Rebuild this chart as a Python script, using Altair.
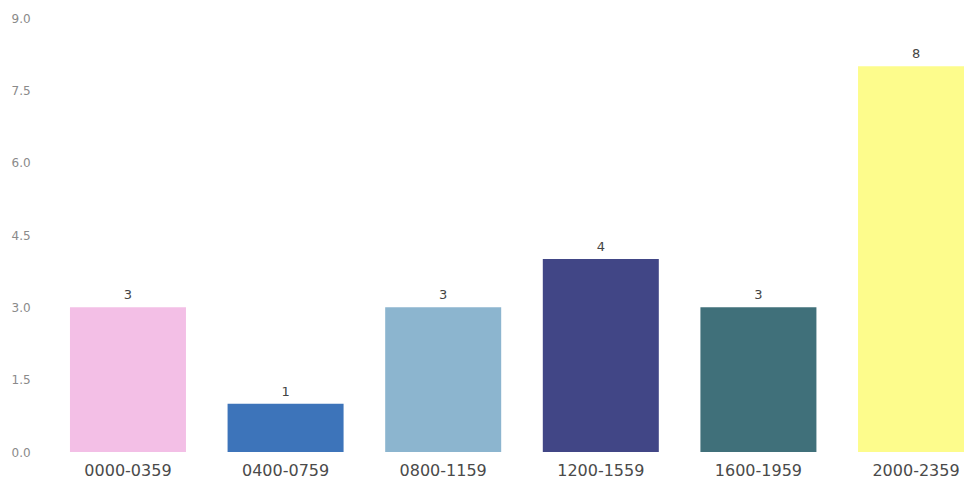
import altair as alt
import pandas as pd

# Counts per four-hour time window
windows = ["0000-0359", "0400-0759", "0800-1159", "1200-1559", "1600-1959", "2000-2359"]
counts = [3, 1, 3, 4, 3, 8]
bar_colors = ["#f3bfe6", "#3d74ba", "#8cb5cf", "#414686", "#40707a", "#fdfc8c"]
y_ticks = [0, 1.5, 3, 4.5, 6, 7.5, 9]

df = pd.DataFrame({"window": windows, "count": counts})

x_enc = alt.X(
    "window:N",
    sort=windows,
    title=None,
    scale=alt.Scale(range=[0, 946], paddingInner=0.264, paddingOuter=0.133),
    axis=alt.Axis(
        labelAngle=0,
        labelFont="DejaVu Sans",
        labelFontSize=16,
        labelColor="#4a4a4a",
        labelPadding=10,
        domain=False,
        ticks=False,
        grid=False,
    ),
)
y_enc = alt.Y(
    "count:Q",
    title=None,
    scale=alt.Scale(domain=[0, 9], nice=False),
    axis=alt.Axis(
        values=y_ticks,
        format=".1f",
        labelFont="DejaVu Sans",
        labelFontSize=12,
        labelColor="#8a8a8a",
        labelAlign="left",
        labelPadding=38,
        domain=False,
        ticks=False,
        grid=False,
    ),
)

bars = alt.Chart(df).mark_bar().encode(
    x=x_enc,
    y=y_enc,
    color=alt.Color(
        "window:N",
        scale=alt.Scale(domain=windows, range=bar_colors),
        legend=None,
    ),
)

labels = alt.Chart(df).mark_text(
    baseline="alphabetic", dy=-8, font="DejaVu Sans", fontSize=13, color="#444444"
).encode(
    x=alt.X("window:N", sort=windows),
    y="count:Q",
    text="count:Q",
)

chart = (
    alt.layer(bars, labels)
    .properties(
        width=915,
        height=434,
        background="white",
        autosize=alt.AutoSizeParams(type="none"),
        padding={"left": 49, "top": 18, "right": 0, "bottom": 29},
    )
    .configure_axis(domain=False, ticks=False, grid=False)
    .configure_view(strokeWidth=0)
)

chart.save("out.html", embed_options={"renderer": "svg", "actions": False})
